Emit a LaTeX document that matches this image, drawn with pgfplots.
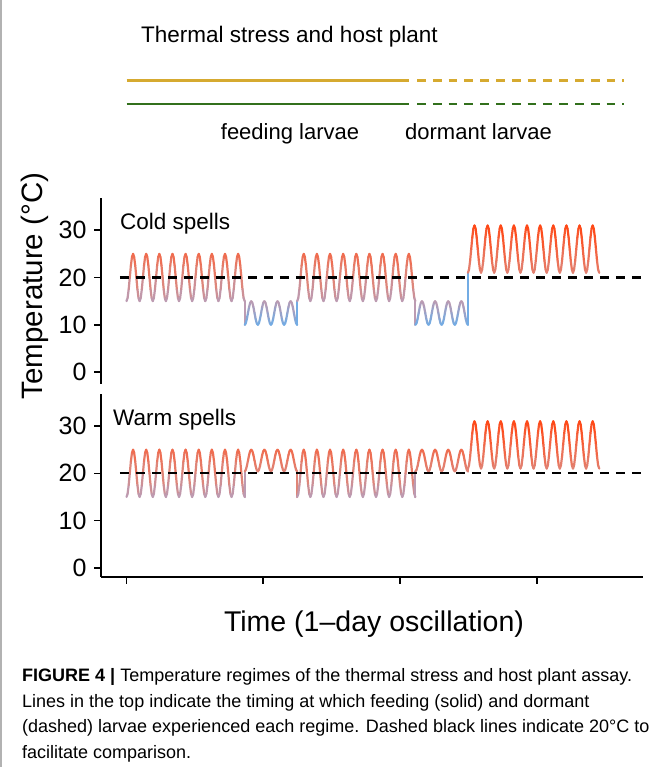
\documentclass[border=0pt]{standalone}
\usepackage{fontspec}
\setmainfont{Liberation Sans}
\usepackage{pgfplots}
\usepackage{pgfplotstable}
\pgfplotsset{compat=1.18}
\definecolor{yellowc}{RGB}{214,170,48}
\definecolor{greenc}{RGB}{50,112,28}
\pgfplotsset{colormap={temp}{rgb255(0cm)=(115,172,228) rgb255(5cm)=(188,155,178) rgb255(10cm)=(222,134,122) rgb255(15cm)=(240,108,78) rgb255(21cm)=(255,72,22)}}
\pgfplotstableread[row sep=\\]{
t cold warm\\
0 15 15\\2 15.67 15.67\\4 17.5 17.5\\6 20 20\\8 22.5 22.5\\10 24.33 24.33\\12 25 25\\14 24.33 24.33\\16 22.5 22.5\\18 20 20\\20 17.5 17.5\\22 15.67 15.67\\
24 15 15\\26 15.67 15.67\\28 17.5 17.5\\30 20 20\\32 22.5 22.5\\34 24.33 24.33\\36 25 25\\38 24.33 24.33\\40 22.5 22.5\\42 20 20\\44 17.5 17.5\\46 15.67 15.67\\
48 15 15\\50 15.67 15.67\\52 17.5 17.5\\54 20 20\\56 22.5 22.5\\58 24.33 24.33\\60 25 25\\62 24.33 24.33\\64 22.5 22.5\\66 20 20\\68 17.5 17.5\\70 15.67 15.67\\
72 15 15\\74 15.67 15.67\\76 17.5 17.5\\78 20 20\\80 22.5 22.5\\82 24.33 24.33\\84 25 25\\86 24.33 24.33\\88 22.5 22.5\\90 20 20\\92 17.5 17.5\\94 15.67 15.67\\
96 15 15\\98 15.67 15.67\\100 17.5 17.5\\102 20 20\\104 22.5 22.5\\106 24.33 24.33\\108 25 25\\110 24.33 24.33\\112 22.5 22.5\\114 20 20\\116 17.5 17.5\\118 15.67 15.67\\
120 15 15\\122 15.67 15.67\\124 17.5 17.5\\126 20 20\\128 22.5 22.5\\130 24.33 24.33\\132 25 25\\134 24.33 24.33\\136 22.5 22.5\\138 20 20\\140 17.5 17.5\\142 15.67 15.67\\
144 15 15\\146 15.67 15.67\\148 17.5 17.5\\150 20 20\\152 22.5 22.5\\154 24.33 24.33\\156 25 25\\158 24.33 24.33\\160 22.5 22.5\\162 20 20\\164 17.5 17.5\\166 15.67 15.67\\
168 15 15\\170 15.67 15.67\\172 17.5 17.5\\174 20 20\\176 22.5 22.5\\178 24.33 24.33\\180 25 25\\182 24.33 24.33\\184 22.5 22.5\\186 20 20\\188 17.5 17.5\\190 15.67 15.67\\
192 15 15\\194 15.67 15.67\\196 17.5 17.5\\198 20 20\\200 22.5 22.5\\202 24.33 24.33\\204 25 25\\206 24.33 24.33\\208 22.5 22.5\\210 20 20\\212 17.5 17.5\\214 15.67 15.67\\
216 15 15\\
216 10 20.4\\218 10.33 20.71\\220 11.25 21.55\\222 12.5 22.7\\224 13.75 23.85\\226 14.67 24.69\\228 15 25\\230 14.67 24.69\\232 13.75 23.85\\234 12.5 22.7\\236 11.25 21.55\\238 10.33 20.71\\
240 10 20.4\\242 10.33 20.71\\244 11.25 21.55\\246 12.5 22.7\\248 13.75 23.85\\250 14.67 24.69\\252 15 25\\254 14.67 24.69\\256 13.75 23.85\\258 12.5 22.7\\260 11.25 21.55\\262 10.33 20.71\\
264 10 20.4\\266 10.33 20.71\\268 11.25 21.55\\270 12.5 22.7\\272 13.75 23.85\\274 14.67 24.69\\276 15 25\\278 14.67 24.69\\280 13.75 23.85\\282 12.5 22.7\\284 11.25 21.55\\286 10.33 20.71\\
288 10 20.4\\290 10.33 20.71\\292 11.25 21.55\\294 12.5 22.7\\296 13.75 23.85\\298 14.67 24.69\\300 15 25\\302 14.67 24.69\\304 13.75 23.85\\306 12.5 22.7\\308 11.25 21.55\\310 10.33 20.71\\
312 10 20.4\\
312 15 15\\314 15.67 15.67\\316 17.5 17.5\\318 20 20\\320 22.5 22.5\\322 24.33 24.33\\324 25 25\\326 24.33 24.33\\328 22.5 22.5\\330 20 20\\332 17.5 17.5\\334 15.67 15.67\\
336 15 15\\338 15.67 15.67\\340 17.5 17.5\\342 20 20\\344 22.5 22.5\\346 24.33 24.33\\348 25 25\\350 24.33 24.33\\352 22.5 22.5\\354 20 20\\356 17.5 17.5\\358 15.67 15.67\\
360 15 15\\362 15.67 15.67\\364 17.5 17.5\\366 20 20\\368 22.5 22.5\\370 24.33 24.33\\372 25 25\\374 24.33 24.33\\376 22.5 22.5\\378 20 20\\380 17.5 17.5\\382 15.67 15.67\\
384 15 15\\386 15.67 15.67\\388 17.5 17.5\\390 20 20\\392 22.5 22.5\\394 24.33 24.33\\396 25 25\\398 24.33 24.33\\400 22.5 22.5\\402 20 20\\404 17.5 17.5\\406 15.67 15.67\\
408 15 15\\410 15.67 15.67\\412 17.5 17.5\\414 20 20\\416 22.5 22.5\\418 24.33 24.33\\420 25 25\\422 24.33 24.33\\424 22.5 22.5\\426 20 20\\428 17.5 17.5\\430 15.67 15.67\\
432 15 15\\434 15.67 15.67\\436 17.5 17.5\\438 20 20\\440 22.5 22.5\\442 24.33 24.33\\444 25 25\\446 24.33 24.33\\448 22.5 22.5\\450 20 20\\452 17.5 17.5\\454 15.67 15.67\\
456 15 15\\458 15.67 15.67\\460 17.5 17.5\\462 20 20\\464 22.5 22.5\\466 24.33 24.33\\468 25 25\\470 24.33 24.33\\472 22.5 22.5\\474 20 20\\476 17.5 17.5\\478 15.67 15.67\\
480 15 15\\482 15.67 15.67\\484 17.5 17.5\\486 20 20\\488 22.5 22.5\\490 24.33 24.33\\492 25 25\\494 24.33 24.33\\496 22.5 22.5\\498 20 20\\500 17.5 17.5\\502 15.67 15.67\\
504 15 15\\506 15.67 15.67\\508 17.5 17.5\\510 20 20\\512 22.5 22.5\\514 24.33 24.33\\516 25 25\\518 24.33 24.33\\520 22.5 22.5\\522 20 20\\524 17.5 17.5\\526 15.67 15.67\\
528 15 15\\
528 10 20.4\\530 10.33 20.71\\532 11.25 21.55\\534 12.5 22.7\\536 13.75 23.85\\538 14.67 24.69\\540 15 25\\542 14.67 24.69\\544 13.75 23.85\\546 12.5 22.7\\548 11.25 21.55\\550 10.33 20.71\\
552 10 20.4\\554 10.33 20.71\\556 11.25 21.55\\558 12.5 22.7\\560 13.75 23.85\\562 14.67 24.69\\564 15 25\\566 14.67 24.69\\568 13.75 23.85\\570 12.5 22.7\\572 11.25 21.55\\574 10.33 20.71\\
576 10 20.4\\578 10.33 20.71\\580 11.25 21.55\\582 12.5 22.7\\584 13.75 23.85\\586 14.67 24.69\\588 15 25\\590 14.67 24.69\\592 13.75 23.85\\594 12.5 22.7\\596 11.25 21.55\\598 10.33 20.71\\
600 10 20.4\\602 10.33 20.71\\604 11.25 21.55\\606 12.5 22.7\\608 13.75 23.85\\610 14.67 24.69\\612 15 25\\614 14.67 24.69\\616 13.75 23.85\\618 12.5 22.7\\620 11.25 21.55\\622 10.33 20.71\\
624 10 20.4\\
624 21 21\\626 21.67 21.67\\628 23.5 23.5\\630 26 26\\632 28.5 28.5\\634 30.33 30.33\\636 31 31\\638 30.33 30.33\\640 28.5 28.5\\642 26 26\\644 23.5 23.5\\646 21.67 21.67\\
648 21 21\\650 21.67 21.67\\652 23.5 23.5\\654 26 26\\656 28.5 28.5\\658 30.33 30.33\\660 31 31\\662 30.33 30.33\\664 28.5 28.5\\666 26 26\\668 23.5 23.5\\670 21.67 21.67\\
672 21 21\\674 21.67 21.67\\676 23.5 23.5\\678 26 26\\680 28.5 28.5\\682 30.33 30.33\\684 31 31\\686 30.33 30.33\\688 28.5 28.5\\690 26 26\\692 23.5 23.5\\694 21.67 21.67\\
696 21 21\\698 21.67 21.67\\700 23.5 23.5\\702 26 26\\704 28.5 28.5\\706 30.33 30.33\\708 31 31\\710 30.33 30.33\\712 28.5 28.5\\714 26 26\\716 23.5 23.5\\718 21.67 21.67\\
720 21 21\\722 21.67 21.67\\724 23.5 23.5\\726 26 26\\728 28.5 28.5\\730 30.33 30.33\\732 31 31\\734 30.33 30.33\\736 28.5 28.5\\738 26 26\\740 23.5 23.5\\742 21.67 21.67\\
744 21 21\\746 21.67 21.67\\748 23.5 23.5\\750 26 26\\752 28.5 28.5\\754 30.33 30.33\\756 31 31\\758 30.33 30.33\\760 28.5 28.5\\762 26 26\\764 23.5 23.5\\766 21.67 21.67\\
768 21 21\\770 21.67 21.67\\772 23.5 23.5\\774 26 26\\776 28.5 28.5\\778 30.33 30.33\\780 31 31\\782 30.33 30.33\\784 28.5 28.5\\786 26 26\\788 23.5 23.5\\790 21.67 21.67\\
792 21 21\\794 21.67 21.67\\796 23.5 23.5\\798 26 26\\800 28.5 28.5\\802 30.33 30.33\\804 31 31\\806 30.33 30.33\\808 28.5 28.5\\810 26 26\\812 23.5 23.5\\814 21.67 21.67\\
816 21 21\\818 21.67 21.67\\820 23.5 23.5\\822 26 26\\824 28.5 28.5\\826 30.33 30.33\\828 31 31\\830 30.33 30.33\\832 28.5 28.5\\834 26 26\\836 23.5 23.5\\838 21.67 21.67\\
840 21 21\\842 21.67 21.67\\844 23.5 23.5\\846 26 26\\848 28.5 28.5\\850 30.33 30.33\\852 31 31\\854 30.33 30.33\\856 28.5 28.5\\858 26 26\\860 23.5 23.5\\862 21.67 21.67\\
864 21 21\\
}\tempdata
\pgfplotsset{
  panel/.style={
    scale only axis, width=542pt, xmin=-46.6, xmax=944,
    axis y line*=left,
    ytick={0,10,20,30},
    tick align=outside, major tick length=7pt,
    tick style={black, line width=1.6pt},
    axis line style={black, line width=1.8pt},
    yticklabel style={font=\fontsize{25}{25}\selectfont, xshift=-4pt},
    /pgf/number format/assume math mode=true,
    point meta min=10, point meta max=31,
    colormap name=temp,
    clip=false,
  },
  tline/.style={mesh, shader=flat corner, point meta=y, line width=2.2pt, line cap=round, line join=round},
  zline/.style={black, line width=2.2pt, dash pattern=on 9.5pt off 6.5pt, forget plot},
}
\begin{document}
\begin{tikzpicture}
\useasboundingbox (0,0) rectangle (654pt,767pt);
\draw[gray!60, line width=1.5pt] (1pt,0) -- (1pt,767pt);
% top timing lines
\begin{axis}[scale only axis, hide axis, width=542pt, height=150pt, xmin=-46.6, xmax=944,
  ymin=0, ymax=150, y dir=reverse, at={(101pt,617pt)}, anchor=south west, clip=false]
\addplot[yellowc, line width=2.4pt] coordinates {(0,80.5) (516,80.5)};
\addplot[yellowc, line width=2.4pt, dash pattern=on 8.8pt off 7pt] coordinates {(531,80.5) (910,80.5)};
\addplot[greenc, line width=2.4pt] coordinates {(0,104) (516,104)};
\addplot[greenc, line width=2.4pt, dash pattern=on 8.8pt off 7pt] coordinates {(531,104) (910,104)};
\end{axis}
% cold spells panel
\begin{axis}[panel, at={(101pt,383pt)}, anchor=south west, height=186pt, ymin=-2.5, ymax=36.8, axis x line=none]
\addplot[tline] table[x=t, y=cold] {\tempdata};
\addplot[zline] coordinates {(-12,20) (944,20)};
\end{axis}
% warm spells panel
\begin{axis}[panel, at={(101pt,190pt)}, anchor=south west, height=183.2pt, ymin=-1.9, ymax=36.8,
  axis x line*=bottom, xtick={0,250,500,750}, xticklabels={}]
\addplot[tline] table[x=t, y=warm] {\tempdata};
\addplot[zline] coordinates {(-12,20) (944,20)};
\end{axis}
% texts
\node[anchor=base west, inner sep=0pt, font=\fontsize{22.5}{22.5}\selectfont] at (141pt,724.5pt) {Thermal stress and host plant};
\node[anchor=base, inner sep=0pt, font=\fontsize{22}{22}\selectfont] at (290pt,627pt) {feeding larvae};
\node[anchor=base west, inner sep=0pt, font=\fontsize{22}{22}\selectfont] at (405pt,627pt) {dormant larvae};
\node[anchor=base west, inner sep=0pt, font=\fontsize{22.5}{22.5}\selectfont] at (120pt,537pt) {Cold spells};
\node[anchor=base west, inner sep=0pt, font=\fontsize{22.5}{22.5}\selectfont] at (113pt,341.5pt) {Warm spells};
\node[anchor=base, rotate=90, inner sep=0pt, font=\fontsize{29.5}{29.5}\selectfont] at (43pt,481pt) {Temperature (°C)};
\node[anchor=base, inner sep=0pt, font=\fontsize{28.5}{28.5}\selectfont] at (374pt,135pt) {Time (1–day oscillation)};
% caption
\begin{scope}[every node/.style={anchor=base west, inner sep=0pt, font=\fontsize{18}{18}\selectfont}]
\node at (22pt,85.3pt) {\textbf{FIGURE 4 |} Temperature regimes of the thermal stress and host plant assay.};
\node at (22pt,59.7pt) {Lines in the top indicate the timing at which feeding (solid) and dormant};
\node at (22pt,34.2pt) {(dashed) larvae experienced each regime. Dashed black lines indicate 20°C to};
\node at (22pt,8.7pt) {facilitate comparison.};
\end{scope}
\end{tikzpicture}
\end{document}
